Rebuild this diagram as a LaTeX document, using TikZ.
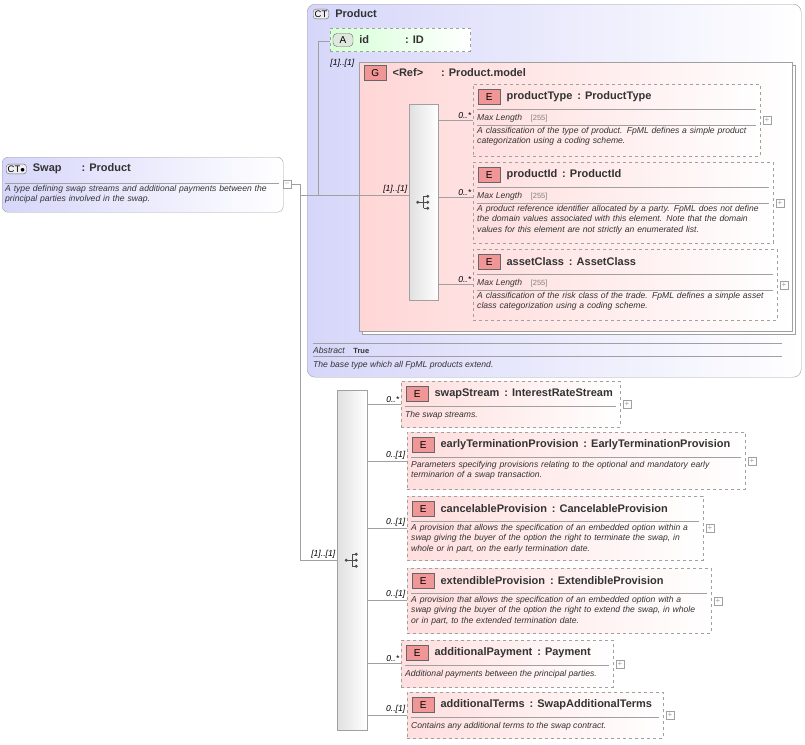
\documentclass[tikz,border=0pt]{standalone}
\usepackage{fontspec}
\setmainfont{Liberation Sans}
\usetikzlibrary{positioning}
\definecolor{ctfill}{RGB}{214,214,250}
\definecolor{grpfill}{RGB}{255,214,214}
\definecolor{elfill}{RGB}{255,222,222}
\definecolor{atfill}{RGB}{214,255,214}
\definecolor{edge}{RGB}{160,160,160}
\definecolor{badge}{RGB}{240,150,150}
\tikzset{
  conn/.style={draw=edge,line width=.6pt},
  card/.style={font=\itshape\fontsize{8.6}{10.5}\selectfont,text=black!80,align=left},
  title/.style={font=\bfseries\fontsize{11}{12}\selectfont,text=black!80,anchor=west,inner sep=0},
  badgebox/.style={draw=black!60,fill=badge,minimum width=22pt,minimum height=15pt,inner sep=0,
    font=\fontsize{10}{10}\selectfont,anchor=west},
  ebox/.style={draw=edge,dashed,line width=.8pt,anchor=north west,inner sep=0,
    left color=elfill,right color=white},
  plus/.style={draw=edge,fill=white,minimum size=8pt,inner sep=0,font=\fontsize{8}{8}\selectfont,text=edge},
  mult/.style={font=\itshape\fontsize{8.6}{9}\selectfont,anchor=south east,inner sep=1.5pt},
  seqbar/.style={draw=edge,anchor=north west,left color=black!12,right color=white,inner sep=0}
}
% element box: name, x, y, width, height, title
\newcommand\elem[6]{%
  \node[ebox,minimum width=#4pt,minimum height=#5pt] (#1) at (#2,#3) {};
  \node[badgebox] (#1b) at (#2+5,#3+13) {E};
  \node[title,right=6pt of #1b] (#1t) {#6};
  \draw[edge] (#2+4,#3+25) -- (#2+#4-4,#3+25);
  \node[plus,right=2pt of #1] (#1p) {+};}
\newcommand\maxlen[3]{% x, y, width
  \node[card,anchor=west,inner sep=0] at (#1+4,#2+34) {Max Length\quad{\upshape\color{black!50}\fontsize{7.5}{8}\selectfont[255]}};
  \draw[edge] (#1+4,#2+41) -- (#1+#3-4,#2+41);}
\newcommand\seqicon[1]{% sequence symbol at node
  \draw[black!70,line width=.7pt] ([xshift=-6pt]#1.center) -- (#1.center)
    ([xshift=0pt,yshift=-6pt]#1.center) -- ([yshift=6pt]#1.center)
    foreach \d in {-6,0,6}{ ([yshift=\d pt]#1.center) -- ([xshift=4pt,yshift=\d pt]#1.center)};
  \fill[black!70] ([xshift=-6pt]#1.center) circle (1.6pt)
    foreach \d in {-6,0,6}{ ([xshift=4pt,yshift=\d pt]#1.center) circle (1.6pt)};}
\begin{document}
\begin{tikzpicture}[x=1pt,y=-1pt]
  \useasboundingbox (0,0) rectangle (805,744);
  % Swap
  \node[draw=edge,rounded corners=6pt,anchor=north west,minimum width=281pt,minimum height=55pt,
    left color=ctfill,right color=white,inner sep=0] (swap) at (2,157) {};
  \node[draw=black!60,fill=ctfill!80!black!20,rounded corners=3pt,font=\fontsize{9.5}{9}\selectfont,
    anchor=west,inner sep=1.5pt] (swapb) at (6,169) {CT$\bullet$};
  \node[title,right=6pt of swapb] (swapt) {Swap\hspace{20pt}: Product};
  \draw[edge] (5,183) -- (279,183);
  \node[card,anchor=north west,text width=278pt,inner sep=0] at (5,185)
    {A type defining swap streams and additional payments between the\\ principal parties involved in the swap.};
  \node[plus] (swapm) at (287,184) {--};
  % Product
  \node[draw=edge,rounded corners=8pt,anchor=north west,minimum width=494pt,minimum height=373pt,
    left color=ctfill,right color=white,inner sep=0] (prod) at (307,4) {};
  \node[draw=black!60,fill=ctfill!80!black!20,rounded corners=3pt,font=\fontsize{9.5}{9}\selectfont,
    anchor=west,inner sep=1.5pt] (prodb) at (313,14) {CT};
  \node[title,right=6pt of prodb] {Product};
  \node[draw=edge,dashed,line width=.8pt,anchor=north west,minimum width=140pt,minimum height=23pt,
    left color=atfill,right color=white,inner sep=0] (id) at (330,28) {};
  \node[draw=black!60,fill=atfill!70!black!30,rounded corners=4pt,minimum width=20pt,minimum height=13pt,
    inner sep=0,font=\fontsize{10}{10}\selectfont] (idb) at (343,40) {A};
  \node[title,right=6pt of idb] (idt) {id\hspace{36pt}: ID};
  \node[mult,anchor=north east] at (356,58) {[1]..[1]};
  % group
  \node[draw=edge,anchor=north west,minimum width=433pt,minimum height=269pt,inner sep=0,
    fill=white] at (362,65) {};
  \node[draw=edge,anchor=north west,minimum width=433pt,minimum height=269pt,inner sep=0,
    left color=grpfill,right color=white] (grp) at (359,62) {};
  \node[badgebox] (grpb) at (364,73) {G};
  \node[title,right=6pt of grpb] {<Ref>\hspace{18pt}: Product.model};
  \node[seqbar,minimum width=29pt,minimum height=196pt] (seqA) at (409,104) {};
  \seqicon{seqA}
  \elem{pt}{473}{84}{287}{72}{productType\ \,: ProductType}
  \maxlen{473}{84}{287}
  \node[card,anchor=north west,text width=284pt,inner sep=0] at (477,127)
    {A classification of the type of product. FpML defines a simple product\\ categorization using a coding scheme.};
  \elem{pi}{473}{162}{300}{81}{productId\ \,: ProductId}
  \maxlen{473}{162}{300}
  \node[card,anchor=north west,text width=298pt,inner sep=0] at (477,205)
    {A product reference identifier allocated by a party. FpML does not define\\ the domain values associated with this element. Note that the domain\\ values for this element are not strictly an enumerated list.};
  \elem{ac}{473}{249}{304}{71}{assetClass\ \,: AssetClass}
  \maxlen{473}{249}{304}
  \node[card,anchor=north west,text width=302pt,inner sep=0] at (477,292)
    {A classification of the risk class of the trade. FpML defines a simple asset\\ class categorization using a coding scheme.};
  \foreach \n/\y in {pt/120,pi/197,ac/284}{
    \draw[conn] (seqA.east |- 0,\y) -- (\n.west |- 0,\y) node[mult] {0..*};}
  \draw[edge] (313,343) -- (782,343);
  \node[card,anchor=west,inner sep=0] at (313,350) {Abstract\quad{\upshape\bfseries\fontsize{7.5}{7}\selectfont True}};
  \draw[edge] (313,356) -- (782,356);
  \node[card,anchor=west,inner sep=0] at (313,365) {The base type which all FpML products extend.};
  % main sequence
  \node[seqbar,minimum width=30pt,minimum height=340pt] (seqB) at (337,390) {};
  \seqicon{seqB}
  \draw[conn] (swapm.east) -- (300,184) -- (300,560) -- (seqB.west |- 0,560) node[mult] {[1]..[1]};
  \draw[conn] (300,195) -- (318,195) -- (318,41) -- (id.west |- 0,41);
  \draw[conn] (318,195) -- (seqA.west |- 0,195) node[mult] {[1]..[1]};
  \elem{ss}{401}{381}{219}{46}{swapStream\ \,: InterestRateStream}
  \node[card,anchor=west,inner sep=0] at (405,415) {The swap streams.};
  \elem{et}{407}{432}{338}{57}{earlyTerminationProvision\ \,: EarlyTerminationProvision}
  \node[card,anchor=north west,text width=334pt,inner sep=0] at (411,461)
    {Parameters specifying provisions relating to the optional and mandatory early\\ terminarion of a swap transaction.};
  \elem{cp}{407}{496}{296}{64}{cancelableProvision\ \,: CancelableProvision}
  \node[card,anchor=north west,text width=294pt,inner sep=0] at (411,524)
    {A provision that allows the specification of an embedded option within a\\ swap giving the buyer of the option the right to terminate the swap, in\\ whole or in part, on the early termination date.};
  \elem{ep}{407}{568}{304}{65}{extendibleProvision\ \,: ExtendibleProvision}
  \node[card,anchor=north west,text width=302pt,inner sep=0] at (411,596)
    {A provision that allows the specification of an embedded option with a\\ swap giving the buyer of the option the right to extend the swap, in whole\\ or in part, to the extended termination date.};
  \elem{ap}{401}{640}{212}{47}{additionalPayment\ \,: Payment}
  \node[card,anchor=west,inner sep=0] at (405,674) {Additional payments between the principal parties.};
  \elem{at}{407}{692}{256}{46}{additionalTerms\ \,: SwapAdditionalTerms}
  \node[card,anchor=west,inner sep=0] at (411,726) {Contains any additional terms to the swap contract.};
  \foreach \n/\y/\m in {ss/404/0..*,et/461/0..[1],cp/528/0..[1],ep/600/0..[1],ap/663/0..*,at/715/0..[1]}{
    \draw[conn] (seqB.east |- 0,\y) -- (\n.west |- 0,\y) node[mult] {\m};}
\end{tikzpicture}
\end{document}
